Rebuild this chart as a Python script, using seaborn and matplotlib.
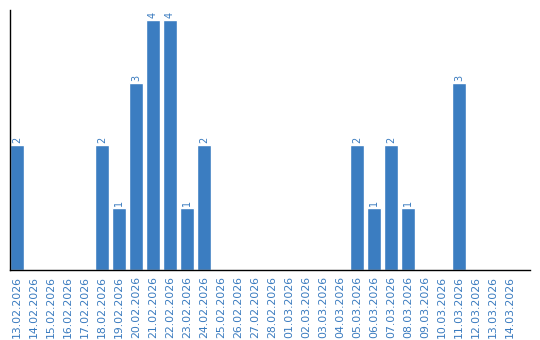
import matplotlib
matplotlib.use("Agg")
import matplotlib.pyplot as plt
import seaborn as sns
import pandas as pd

dates = ["13.02.2026", "14.02.2026", "15.02.2026", "16.02.2026", "17.02.2026",
         "18.02.2026", "19.02.2026", "20.02.2026", "21.02.2026", "22.02.2026",
         "23.02.2026", "24.02.2026", "25.02.2026", "26.02.2026", "27.02.2026",
         "28.02.2026", "01.03.2026", "02.03.2026", "03.03.2026", "04.03.2026",
         "05.03.2026", "06.03.2026", "07.03.2026", "08.03.2026", "09.03.2026",
         "10.03.2026", "11.03.2026", "12.03.2026", "13.03.2026", "14.03.2026"]
values = [2, 0, 0, 0, 0, 2, 1, 3, 4, 4, 1, 2, 0, 0, 0, 0, 0, 0, 0, 0,
          2, 1, 2, 1, 0, 0, 3, 0, 0, 0]

bar_color = "#3b7dc1"
text_color = "#3a7bbf"

sns.set_theme(style="white")
plt.rcParams['font.family'] = ['DejaVu Sans']

df = pd.DataFrame({"date": dates, "value": values})
fig = plt.figure(figsize=(5.4, 3.4), dpi=100)
ax = fig.add_axes([10/540, 70/340, 520/540, 260/340])
sns.barplot(data=df, x="date", y="value", color=bar_color, saturation=1,
            width=0.82, ax=ax, order=dates)

ax.set_xlim(-0.41, -0.41 + 520/17)
ax.set_ylim(0, 4.16)
ax.set_xlabel("")
ax.set_ylabel("")
ax.set_yticks([])
ax.tick_params(axis="x", length=0, pad=4, labelsize=7.8, labelcolor=text_color,
               labelrotation=90)
for s in ["top", "right"]:
    ax.spines[s].set_visible(False)
for s in ["left", "bottom"]:
    ax.spines[s].set_color("black")
    ax.spines[s].set_linewidth(1)

for i, v in enumerate(values):
    if v > 0:
        ax.text(i, v + 0.03, str(v), rotation=90, ha="center", va="bottom",
                fontsize=7, color=text_color)

fig.savefig("out.png", dpi=100)
